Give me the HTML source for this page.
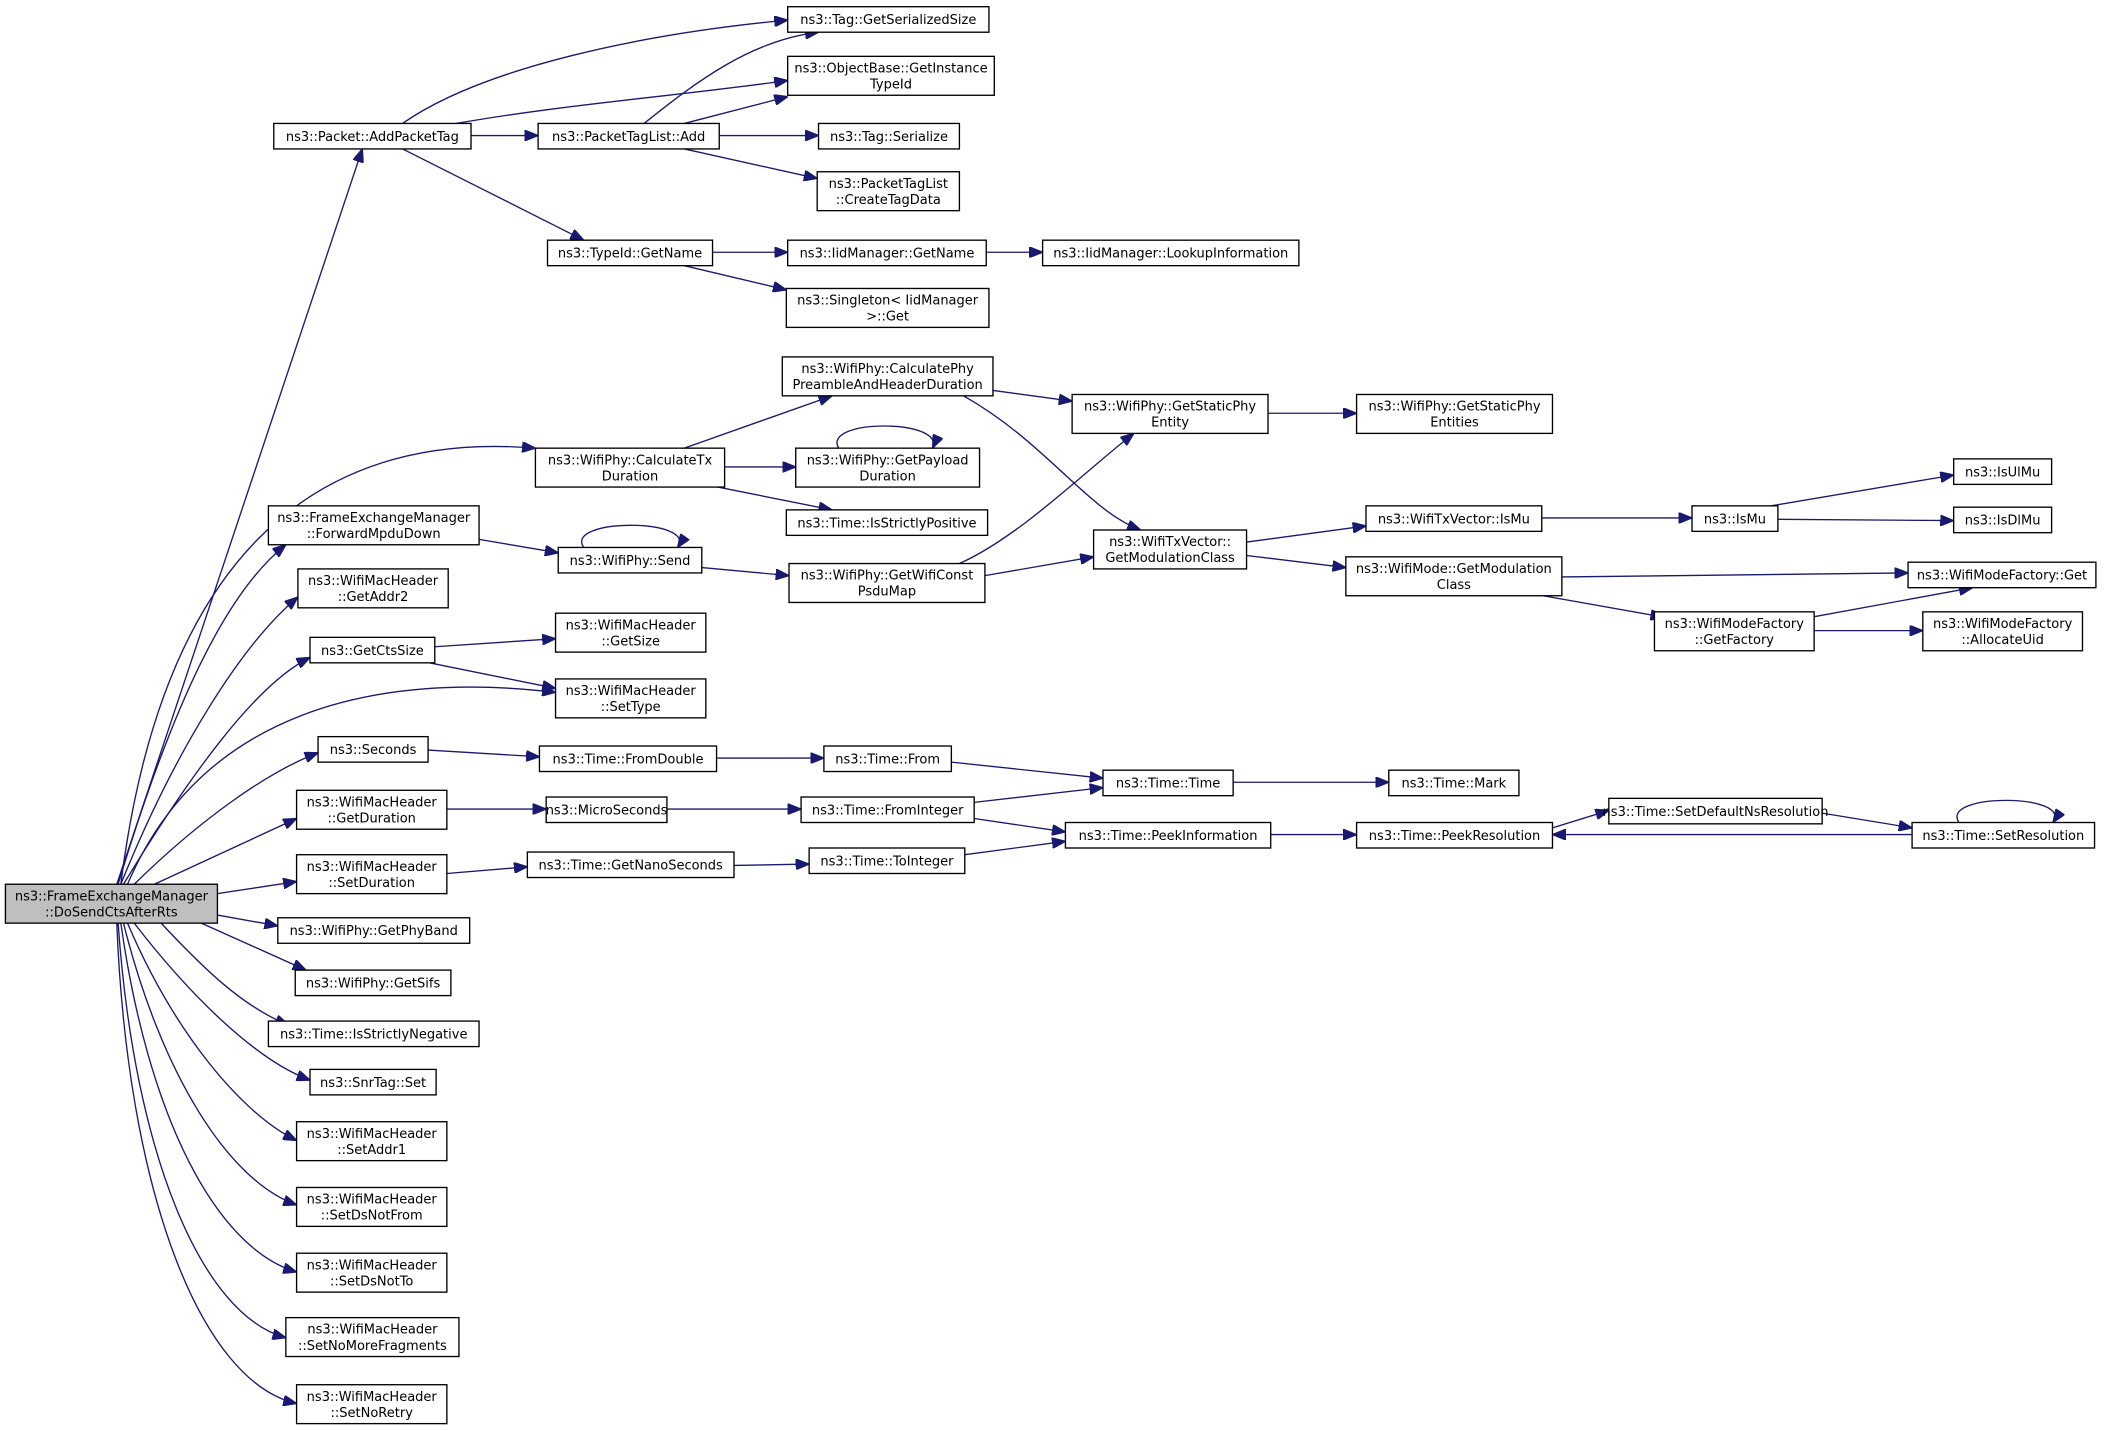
<!DOCTYPE html>
<html><head><meta charset="utf-8"><style>
html,body{margin:0;padding:0;background:#fff;width:2104px;height:1431px;overflow:hidden}
svg{display:block}
text{font-family:"DejaVu Sans","Liberation Sans",sans-serif;font-size:9.7px;fill:#000;text-anchor:middle}
rect{fill:#fff;stroke:#000;stroke-width:1}
path{fill:none;stroke:#191970;stroke-width:1}
</style></head><body>
<svg width="2104" height="1431" viewBox="0 0 1568 1066.5" xmlns="http://www.w3.org/2000/svg">
<defs><marker id="a" markerUnits="userSpaceOnUse" markerWidth="10" markerHeight="8" refX="10" refY="4" orient="auto"><polygon points="0,0 10,4 0,8" fill="#191970" stroke="#191970"/></marker></defs>
<g marker-end="url(#a)">
<path d="M87,659 L270,111"/>
<path d="M90,659 C120,420 230,320 399,334"/>
<path d="M88,659 C130,520 170,440 213,406"/>
<path d="M90,659 C130,560 180,480 222,445"/>
<path d="M92,659 C140,580 190,510 231,490"/>
<path d="M95,659 C150,530 280,500 414,516"/>
<path d="M100,659 C150,610 200,575 237,561"/>
<path d="M115,659 L221,610"/>
<path d="M162,666 L221,657"/>
<path d="M162,682 L207,690"/>
<path d="M150,688 L228,723"/>
<path d="M120,688 C150,720 180,750 215,764"/>
<path d="M100,688 C140,740 190,790 231,805"/>
<path d="M95,688 C130,770 180,830 221,850"/>
<path d="M92,688 C120,800 170,880 221,898"/>
<path d="M90,688 C110,830 160,930 221,948"/>
<path d="M88,688 C100,860 150,980 213,997"/>
<path d="M87,688 C95,890 150,1030 221,1046"/>
<path d="M300,92 C360,50 480,25 587,15"/>
<path d="M340,92 C420,78 500,72 587,60"/>
<path d="M351,101 L401,101"/>
<path d="M300,111 L435,179"/>
<path d="M480,92 C520,60 560,30 610,24"/>
<path d="M510,92 L587,72"/>
<path d="M536,101 L610,101"/>
<path d="M510,111 L609,133"/>
<path d="M531,188 L587,188"/>
<path d="M510,198 L586,216"/>
<path d="M735,188 L777,188"/>
<path d="M510,334 L620,295"/>
<path d="M540,348 L593,348"/>
<path d="M535,363 L620,380"/>
<path d="M740,291 L799,299"/>
<path d="M718,295 C780,330 810,380 850,395"/>
<path d="M625,334 C612,312 705,312 695,334"/>
<path d="M945,308 L1011,308"/>
<path d="M357,402 L416,412"/>
<path d="M435,408 C420,386 520,386 505,408"/>
<path d="M523,423 L588,429"/>
<path d="M715,420 C760,400 810,350 845,323"/>
<path d="M734,429 L815,415"/>
<path d="M929,404 L1018,392"/>
<path d="M929,414 L1003,423"/>
<path d="M1149,386 L1261,386"/>
<path d="M1320,377 L1456,354"/>
<path d="M1325,387 L1456,388"/>
<path d="M1164,430 L1422,427"/>
<path d="M1150,444 L1240,460"/>
<path d="M1350,460 L1470,438"/>
<path d="M1352,470 L1433,470"/>
<path d="M324,482 L414,476"/>
<path d="M320,494 L414,513"/>
<path d="M319,559 L402,564"/>
<path d="M534,565 L614,565"/>
<path d="M709,568 L822,580"/>
<path d="M919,583 L1035,583"/>
<path d="M333,603 L407,603"/>
<path d="M497,603 L597,603"/>
<path d="M726,598 L822,587"/>
<path d="M726,610 L794,620"/>
<path d="M947,622 L1011,622"/>
<path d="M1157,617 L1199,604"/>
<path d="M1358,606 L1425,617"/>
<path d="M1425,622 L1157,622"/>
<path d="M1460,613 C1445,591 1545,591 1530,613"/>
<path d="M333,651 L393,646"/>
<path d="M547,645 L603,644"/>
<path d="M719,637 L794,627"/>
</g>
<rect x="4" y="659" width="158" height="29" style="fill:#bfbfbf"/><text x="83" y="671">ns3::FrameExchangeManager</text><text x="83" y="683">::DoSendCtsAfterRts</text>
<rect x="204" y="92" width="147" height="19"/><text x="277.5" y="105">ns3::Packet::AddPacketTag</text>
<rect x="587" y="5" width="150" height="19"/><text x="662" y="18">ns3::Tag::GetSerializedSize</text>
<rect x="587" y="42" width="154" height="29"/><text x="664" y="54">ns3::ObjectBase::GetInstance</text><text x="664" y="66">TypeId</text>
<rect x="401" y="92" width="135" height="19"/><text x="468.5" y="105">ns3::PacketTagList::Add</text>
<rect x="610" y="92" width="105" height="19"/><text x="662.5" y="105">ns3::Tag::Serialize</text>
<rect x="609" y="128" width="106" height="29"/><text x="662" y="140">ns3::PacketTagList</text><text x="662" y="152">::CreateTagData</text>
<rect x="408" y="179" width="123" height="19"/><text x="469.5" y="192">ns3::TypeId::GetName</text>
<rect x="587" y="179" width="148" height="19"/><text x="661" y="192">ns3::IidManager::GetName</text>
<rect x="777" y="179" width="191" height="19"/><text x="872.5" y="192">ns3::IidManager::LookupInformation</text>
<rect x="586" y="215" width="151" height="29"/><text x="661.5" y="227">ns3::Singleton&lt; IidManager</text><text x="661.5" y="239">&gt;::Get</text>
<rect x="583" y="266" width="157" height="29"/><text x="661.5" y="278">ns3::WifiPhy::CalculatePhy</text><text x="661.5" y="290">PreambleAndHeaderDuration</text>
<rect x="799" y="294" width="146" height="29"/><text x="872" y="306">ns3::WifiPhy::GetStaticPhy</text><text x="872" y="318">Entity</text>
<rect x="1011" y="294" width="146" height="29"/><text x="1084" y="306">ns3::WifiPhy::GetStaticPhy</text><text x="1084" y="318">Entities</text>
<rect x="399" y="334" width="141" height="29"/><text x="469.5" y="346">ns3::WifiPhy::CalculateTx</text><text x="469.5" y="358">Duration</text>
<rect x="593" y="334" width="137" height="29"/><text x="661.5" y="346">ns3::WifiPhy::GetPayload</text><text x="661.5" y="358">Duration</text>
<rect x="586" y="380" width="150" height="19"/><text x="661" y="393">ns3::Time::IsStrictlyPositive</text>
<rect x="200" y="377" width="157" height="29"/><text x="278.5" y="389">ns3::FrameExchangeManager</text><text x="278.5" y="401">::ForwardMpduDown</text>
<rect x="416" y="408" width="107" height="19"/><text x="469.5" y="421">ns3::WifiPhy::Send</text>
<rect x="588" y="420" width="146" height="29"/><text x="661" y="432">ns3::WifiPhy::GetWifiConst</text><text x="661" y="444">PsduMap</text>
<rect x="815" y="395" width="114" height="29"/><text x="872" y="407">ns3::WifiTxVector::</text><text x="872" y="419">GetModulationClass</text>
<rect x="1018" y="377" width="131" height="19"/><text x="1083.5" y="390">ns3::WifiTxVector::IsMu</text>
<rect x="1261" y="377" width="64" height="19"/><text x="1293" y="390">ns3::IsMu</text>
<rect x="1456" y="342" width="73" height="19"/><text x="1492.5" y="355">ns3::IsUlMu</text>
<rect x="1456" y="378" width="73" height="19"/><text x="1492.5" y="391">ns3::IsDlMu</text>
<rect x="1003" y="415" width="161" height="29"/><text x="1083.5" y="427">ns3::WifiMode::GetModulation</text><text x="1083.5" y="439">Class</text>
<rect x="1422" y="419" width="140" height="19"/><text x="1492" y="432">ns3::WifiModeFactory::Get</text>
<rect x="1233" y="456" width="119" height="29"/><text x="1292.5" y="468">ns3::WifiModeFactory</text><text x="1292.5" y="480">::GetFactory</text>
<rect x="1433" y="456" width="119" height="29"/><text x="1492.5" y="468">ns3::WifiModeFactory</text><text x="1492.5" y="480">::AllocateUid</text>
<rect x="222" y="424" width="112" height="29"/><text x="278" y="436">ns3::WifiMacHeader</text><text x="278" y="448">::GetAddr2</text>
<rect x="231" y="475" width="93" height="19"/><text x="277.5" y="488">ns3::GetCtsSize</text>
<rect x="414" y="457" width="112" height="29"/><text x="470" y="469">ns3::WifiMacHeader</text><text x="470" y="481">::GetSize</text>
<rect x="414" y="506" width="112" height="29"/><text x="470" y="518">ns3::WifiMacHeader</text><text x="470" y="530">::SetType</text>
<rect x="237" y="549" width="82" height="19"/><text x="278" y="562">ns3::Seconds</text>
<rect x="402" y="556" width="132" height="19"/><text x="468" y="569">ns3::Time::FromDouble</text>
<rect x="614" y="556" width="95" height="19"/><text x="661.5" y="569">ns3::Time::From</text>
<rect x="822" y="574" width="97" height="19"/><text x="870.5" y="587">ns3::Time::Time</text>
<rect x="1035" y="574" width="97" height="19"/><text x="1083.5" y="587">ns3::Time::Mark</text>
<rect x="221" y="589" width="112" height="29"/><text x="277" y="601">ns3::WifiMacHeader</text><text x="277" y="613">::GetDuration</text>
<rect x="407" y="594" width="90" height="19"/><text x="452" y="607">ns3::MicroSeconds</text>
<rect x="597" y="594" width="129" height="19"/><text x="661.5" y="607">ns3::Time::FromInteger</text>
<rect x="794" y="613" width="153" height="19"/><text x="870.5" y="626">ns3::Time::PeekInformation</text>
<rect x="1011" y="613" width="146" height="19"/><text x="1084" y="626">ns3::Time::PeekResolution</text>
<rect x="1199" y="595" width="159" height="19"/><text x="1278.5" y="608">ns3::Time::SetDefaultNsResolution</text>
<rect x="1425" y="613" width="136" height="19"/><text x="1493" y="626">ns3::Time::SetResolution</text>
<rect x="221" y="637" width="112" height="29"/><text x="277" y="649">ns3::WifiMacHeader</text><text x="277" y="661">::SetDuration</text>
<rect x="393" y="635" width="154" height="19"/><text x="470" y="648">ns3::Time::GetNanoSeconds</text>
<rect x="603" y="632" width="116" height="19"/><text x="661" y="645">ns3::Time::ToInteger</text>
<rect x="207" y="684" width="143" height="19"/><text x="278.5" y="697">ns3::WifiPhy::GetPhyBand</text>
<rect x="220" y="723" width="116" height="19"/><text x="278" y="736">ns3::WifiPhy::GetSifs</text>
<rect x="200" y="761" width="157" height="19"/><text x="278.5" y="774">ns3::Time::IsStrictlyNegative</text>
<rect x="231" y="797" width="94" height="19"/><text x="278" y="810">ns3::SnrTag::Set</text>
<rect x="221" y="836" width="112" height="29"/><text x="277" y="848">ns3::WifiMacHeader</text><text x="277" y="860">::SetAddr1</text>
<rect x="221" y="885" width="112" height="29"/><text x="277" y="897">ns3::WifiMacHeader</text><text x="277" y="909">::SetDsNotFrom</text>
<rect x="221" y="934" width="112" height="29"/><text x="277" y="946">ns3::WifiMacHeader</text><text x="277" y="958">::SetDsNotTo</text>
<rect x="213" y="982" width="129" height="29"/><text x="277.5" y="994">ns3::WifiMacHeader</text><text x="277.5" y="1006">::SetNoMoreFragments</text>
<rect x="221" y="1032" width="112" height="29"/><text x="277" y="1044">ns3::WifiMacHeader</text><text x="277" y="1056">::SetNoRetry</text>
</svg>
</body></html>
